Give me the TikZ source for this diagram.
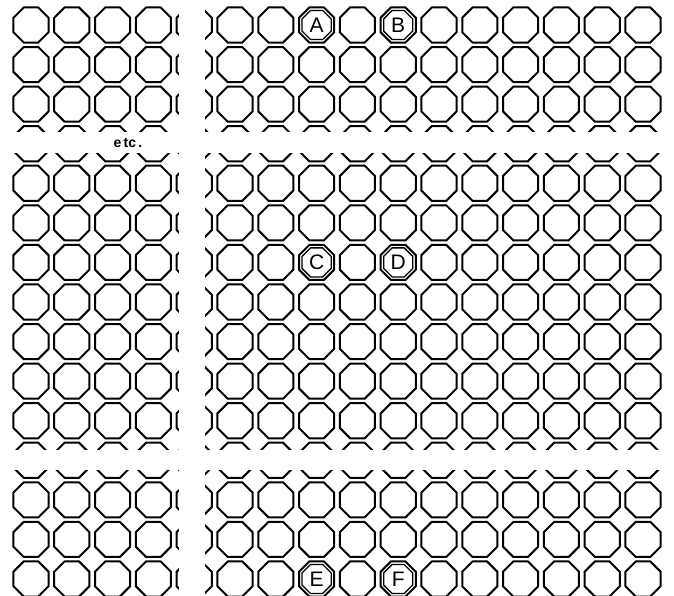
\documentclass[tikz,border=0pt]{standalone}
\usepackage{fontspec}
\setmainfont{Liberation Sans}
\usetikzlibrary{shapes.geometric}

\begin{document}
\begin{tikzpicture}[x=1pt,y=-1pt,
  cell/.style={draw,regular polygon,regular polygon sides=8,minimum size=38pt,inner sep=0pt,line width=2pt},
  inner/.style={draw,regular polygon,regular polygon sides=8,minimum size=31.5pt,inner sep=0pt,line width=1.3pt,font=\fontsize{21}{21}\selectfont},
  gap/.style={fill=white}]
  \useasboundingbox (0,0) rectangle (674,596);
  \clip (0,0) rectangle (674,596);
  \fill[white] (0,0) rectangle (674,596);
  % grid of wells
  \foreach \c in {0,...,15}
    \foreach \r in {0,...,14}
      \node[cell] (o-\c-\r) at ({31+40.8*\c},{25+39.57*\r}) {};
  % blank strips
  \fill[gap] (179,0) rectangle (205,596);
  \fill[gap] (0,132) rectangle (674,153);
  \fill[gap] (0,450) rectangle (674,470);
  \node[font=\fontsize{14}{14}\selectfont\bfseries] (etc) at (128,143) {e\,tc\,.};
  % marked wells
  \node[inner] (A) at (o-7-0) {A};
  \node[inner] (B) at (o-9-0) {B};
  \node[inner] (C) at (o-7-6) {C};
  \node[inner] (D) at (o-9-6) {D};
  \node[inner] (E) at (o-7-14) {E};
  \node[inner] (F) at (o-9-14) {F};
\end{tikzpicture}
\end{document}
